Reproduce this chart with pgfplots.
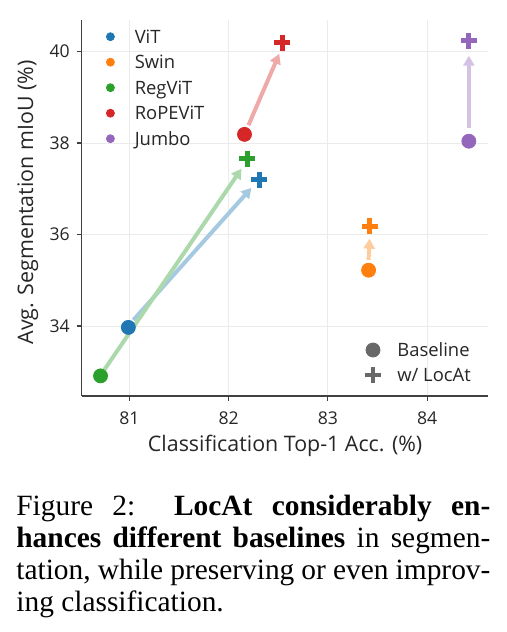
\documentclass[border=0pt]{standalone}
\usepackage{pgfplots}
\pgfplotsset{compat=1.18}
\usepackage{fontspec}
\setmainfont{Open Sans}
\newfontfamily\capfont{Liberation Serif}
\usetikzlibrary{arrows.meta}
\definecolor{tabblue}{HTML}{1F77B4}
\definecolor{taborange}{HTML}{FF7F0E}
\definecolor{tabgreen}{HTML}{2CA02C}
\definecolor{tabred}{HTML}{D62728}
\definecolor{tabpurple}{HTML}{9467BD}
\definecolor{spinec}{HTML}{404040}
\definecolor{gridc}{HTML}{EBEBEB}
\definecolor{textc}{HTML}{262626}
\definecolor{legc}{HTML}{686868}
\begin{document}
\begin{tikzpicture}
\path[use as bounding box] (0pt,0pt) rectangle (253.5pt,-316pt);
\pgfplotsset{
  myleg/.style={
    legend image code/.code={\path[draw=none,fill=none] (-6pt,-6pt) rectangle (12.2pt,6pt); \draw[##1] plot coordinates {(0pt,0pt)};},
    legend cell align=left,
  }
}
\begin{axis}[
  at={(40.85pt,-198pt)}, anchor=south west,
  scale only axis, width=203pt, height=188pt,
  xmin=80.52, xmax=84.61, ymin=32.47, ymax=40.69,
  axis x line*=bottom, axis y line*=left,
  xtick={81,82,83,84}, ytick={34,36,38,40},
  tick align=outside, major tick length=2.5pt,
  tick style={color=spinec, line width=0.6pt},
  axis line style={color=spinec, line width=0.6pt},
  grid=major, major grid style={color=gridc, line width=0.5pt},
  /pgf/number format/assume math mode=true,
  ticklabel style={font=\fontsize{8.8}{10}\selectfont, text=textc},
  xticklabel style={yshift=-2pt},
  xlabel={Classification Top-1 Acc. (\%)},
  ylabel={Avg. Segmentation mIoU (\%)},
  label style={font=\fontsize{10.7}{12}\selectfont, text=textc},
  xlabel style={at={(axis description cs:0.501,-0.132)}, anchor=center},
  ylabel style={at={(axis description cs:-0.1326,0.515)}, anchor=center},
  myleg,
  legend style={at={(axis description cs:0,1)}, anchor=north west, xshift=8.35pt, yshift=-2.35pt,
    draw=none, fill=none, inner sep=0pt, outer sep=0pt, row sep=0.75pt, column sep=0pt,
    font=\fontsize{9.2}{11}\selectfont, text=textc,
    nodes={inner sep=0pt, text height=7pt, text depth=0.4pt, anchor=west}},
  clip=false,
]
\addlegendimage{mark=*, color=tabblue, mark size=2pt}
\addlegendentry{ViT}
\addlegendimage{mark=*, color=taborange, mark size=2pt}
\addlegendentry{Swin}
\addlegendimage{mark=*, color=tabgreen, mark size=2pt}
\addlegendentry{RegViT}
\addlegendimage{mark=*, color=tabred, mark size=2pt}
\addlegendentry{RoPEViT}
\addlegendimage{mark=*, color=tabpurple, mark size=2pt}
\addlegendentry{Jumbo}
% arrows
\addplot[forget plot, tabblue!40!white, line width=2pt, -{Triangle[length=5pt,width=5.5pt]}] coordinates {(81.04,34.13) (82.23,37.02)};
\addplot[forget plot, tabgreen!40!white, line width=2pt, -{Triangle[length=5pt,width=5.5pt]}] coordinates {(80.75,33.05) (82.13,37.44)};
\addplot[forget plot, tabred!40!white, line width=2pt, -{Triangle[length=5pt,width=5.5pt]}] coordinates {(82.20,38.39) (82.51,39.95)};
\addplot[forget plot, taborange!40!white, line width=2pt, -{Triangle[length=5pt,width=5.5pt]}] coordinates {(83.41,35.44) (83.42,35.91)};
\addplot[forget plot, tabpurple!40!white, line width=2pt, -{Triangle[length=5pt,width=5.5pt]}] coordinates {(84.42,38.32) (84.42,39.91)};
% baselines
\addplot[forget plot, only marks, mark=*, mark size=3.5pt, tabblue] coordinates {(80.99,33.97)};
\addplot[forget plot, only marks, mark=*, mark size=3.5pt, taborange] coordinates {(83.41,35.22)};
\addplot[forget plot, only marks, mark=*, mark size=3.5pt, tabgreen] coordinates {(80.71,32.91)};
\addplot[forget plot, only marks, mark=*, mark size=3.5pt, tabred] coordinates {(82.16,38.19)};
\addplot[forget plot, only marks, mark=*, mark size=3.5pt, tabpurple] coordinates {(84.42,38.04)};
% with LocAt
\addplot[forget plot, only marks, mark=+, mark size=4pt, mark options={line width=2.4pt}, tabblue] coordinates {(82.31,37.20)};
\addplot[forget plot, only marks, mark=+, mark size=4pt, mark options={line width=2.4pt}, taborange] coordinates {(83.42,36.18)};
\addplot[forget plot, only marks, mark=+, mark size=4pt, mark options={line width=2.4pt}, tabgreen] coordinates {(82.19,37.66)};
\addplot[forget plot, only marks, mark=+, mark size=4pt, mark options={line width=2.4pt}, tabred] coordinates {(82.54,40.19)};
\addplot[forget plot, only marks, mark=+, mark size=4pt, mark options={line width=2.4pt}, tabpurple] coordinates {(84.42,40.24)};
\end{axis}
\begin{axis}[
  at={(40.85pt,-198pt)}, anchor=south west,
  scale only axis, width=203pt, height=188pt,
  xmin=0, xmax=1, ymin=0, ymax=1, hide axis,
  myleg,
  legend style={at={(axis description cs:0,0)}, anchor=south west, xshift=139.65pt, yshift=4.5pt,
    draw=none, fill=none, inner sep=0pt, outer sep=0pt, row sep=0.5pt, column sep=0pt,
    font=\fontsize{9.2}{11}\selectfont, text=textc,
    nodes={inner sep=0pt, text height=7pt, text depth=0.4pt, anchor=west}},
]
\addplot[draw=none, forget plot] coordinates {(0,0)};
\addlegendimage{mark=*, color=legc, mark size=3.5pt}
\addlegendentry{Baseline}
\addlegendimage{mark=+, color=legc, mark size=4pt, mark options={line width=2.4pt}}
\addlegendentry{w/ LocAt}
\end{axis}
\node[anchor=base west, inner sep=0pt] at (8pt,-257.5pt) {\vtop{\capfont\fontsize{14.7}{16}\selectfont
\hbox to 237pt{Figure 2:\ \ \textbf{LocAt considerably en-}}
\hbox to 237pt{\textbf{hances different baselines} in segmen-}
\hbox to 237pt{tation, while preserving or even improv-}
\hbox{ing classification.}}};
\end{tikzpicture}
\end{document}
